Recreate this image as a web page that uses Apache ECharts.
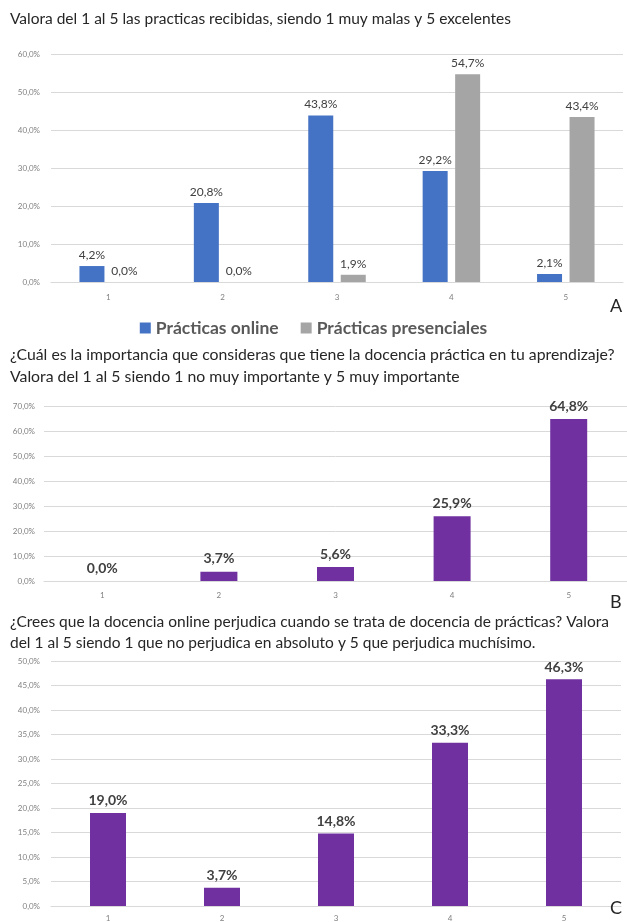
<!DOCTYPE html>
<html><head><meta charset="utf-8">
<script src="https://cdn.jsdelivr.net/npm/echarts@6/dist/echarts.min.js"></script>
<style>html,body{margin:0;padding:0;background:#fff}#c{width:627px;height:922px}</style>
</head><body><div id="c"></div>
<script>
const categories = ['1','2','3','4','5'];
const onlineA = [4.2, 20.8, 43.8, 29.2, 2.1];
const presencialA = [0.0, 0.0, 1.9, 54.7, 43.4];
const importanciaB = [0.0, 3.7, 5.6, 25.9, 64.8];
const perjudicaC = [19.0, 3.7, 14.8, 33.3, 46.3];
const titleA = 'Valora del 1 al 5 las practicas recibidas, siendo 1 muy malas y 5 excelentes';
const titleB = '¿Cuál es la importancia que consideras que tiene la docencia práctica en tu aprendizaje?\nValora del 1 al 5 siendo 1 no muy importante y 5 muy importante';
const titleC = '¿Crees que la docencia online perjudica cuando se trata de docencia de prácticas? Valora\ndel 1 al 5 siendo 1 que no perjudica en absoluto y 5 que perjudica muchísimo.';
const seriesNames = ['Prácticas online', 'Prácticas presenciales'];

const FONT = 'Lato, "Open Sans", sans-serif';
const fmt = v => v.toFixed(1).replace('.', ',') + '%';
const grid = '#d9d9d9';
const axLab = {fontSize: 8, color: '#808080', fontFamily: FONT};

function yAxis(idx, max, interval, margin) {
  return {gridIndex: idx, type: 'value', min: 0, max: max, interval: interval,
    axisLabel: Object.assign({formatter: v => fmt(v), margin: margin}, axLab),
    axisLine: {show: false}, axisTick: {show: false},
    splitLine: {lineStyle: {color: grid, width: 1}}};
}
function xAxis(idx, margin) {
  return {gridIndex: idx, type: 'category', data: categories,
    axisLabel: Object.assign({margin: margin}, axLab),
    axisLine: {lineStyle: {color: grid}}, axisTick: {show: false}};
}
const tStyle = (size, lh) => ({fontSize: size, fontWeight: 'normal', color: '#262626', lineHeight: lh, fontFamily: FONT});

const chart = echarts.init(document.getElementById('c'), null, {renderer: 'canvas'});
chart.setOption({
  animation: false,
  backgroundColor: '#fff',
  textStyle: {fontFamily: FONT},
  title: [
    {text: titleA, left: 10, top: 9, padding: 0, textStyle: tStyle(15.5, 20)},
    {text: titleB, left: 10, top: 344, padding: 0, textStyle: tStyle(15.8, 22)},
    {text: titleC, left: 10, top: 611, padding: 0, textStyle: tStyle(15.5, 21)},
    {text: 'A', left: 610, top: 296, padding: 0, textStyle: tStyle(18, 20)},
    {text: 'B', left: 610, top: 592, padding: 0, textStyle: tStyle(18, 20)},
    {text: 'C', left: 610, top: 898, padding: 0, textStyle: tStyle(18, 20)}
  ],
  legend: {
    data: seriesNames, left: 'center', top: 314, itemWidth: 11, itemHeight: 11, itemGap: 22, icon: 'rect',
    textStyle: {fontSize: 17.5, fontWeight: 'bold', color: '#595959', fontFamily: FONT}
  },
  grid: [
    {left: 51, width: 572, top: 54, height: 228},
    {left: 44, width: 592, top: 406, height: 175},
    {left: 51, width: 570, top: 661, height: 245}
  ],
  xAxis: [xAxis(0, 11), xAxis(1, 10), xAxis(2, 8)],
  yAxis: [yAxis(0, 60, 10, 11), yAxis(1, 70, 10, 9), yAxis(2, 50, 5, 11)],
  series: [
    {name: seriesNames[0], type: 'bar', xAxisIndex: 0, yAxisIndex: 0, data: onlineA,
      barWidth: 25, barGap: '30%', itemStyle: {color: '#4472C4'},
      label: {show: true, position: 'top', distance: 5, formatter: p => fmt(p.value), fontSize: 12, color: '#404040', fontFamily: FONT}},
    {name: seriesNames[1], type: 'bar', xAxisIndex: 0, yAxisIndex: 0, data: presencialA,
      barWidth: 25, barGap: '30%', itemStyle: {color: '#A5A5A5'},
      label: {show: true, position: 'top', distance: 5, formatter: p => fmt(p.value), fontSize: 12, color: '#404040', fontFamily: FONT}},
    {type: 'bar', xAxisIndex: 1, yAxisIndex: 1, data: importanciaB,
      barWidth: 37, itemStyle: {color: '#7030A0'},
      label: {show: true, position: 'top', distance: 6, formatter: p => fmt(p.value), fontSize: 14, fontWeight: 'bold', color: '#404040', fontFamily: FONT}},
    {type: 'bar', xAxisIndex: 2, yAxisIndex: 2, data: perjudicaC,
      barWidth: 36, itemStyle: {color: '#7030A0'},
      label: {show: true, position: 'top', distance: 5, formatter: p => fmt(p.value), fontSize: 14, fontWeight: 'bold', color: '#404040', fontFamily: FONT}}
  ]
});
</script></body></html>
